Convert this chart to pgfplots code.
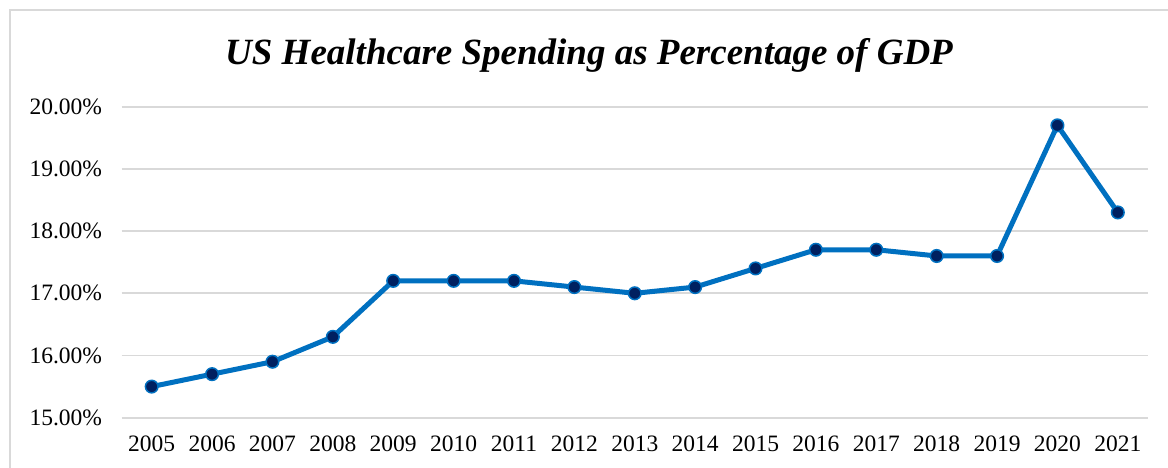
\documentclass[border=0pt]{standalone}
\usepackage{pgfplots}
\pgfplotsset{compat=1.18}
\usepackage{fontspec}
\setmainfont{Liberation Serif}
\definecolor{lineblue}{HTML}{0070C0}
\definecolor{navy}{HTML}{002060}
\definecolor{gridgray}{HTML}{D9D9D9}
\begin{document}
\begin{tikzpicture}[x=1pt,y=1pt]
\useasboundingbox (0,0) rectangle (1168,468);
\draw[gridgray, line width=1.5pt] (10,458) rectangle (1190,-20);
\node[font=\fontsize{37}{44}\selectfont\bfseries\itshape, anchor=base] at (589,403) {US Healthcare Spending as Percentage of GDP};
\begin{axis}[
  at={(121.5pt,50.3pt)}, anchor=south west,
  scale only axis, width=1026.5pt, height=311pt,
  xmin=2004.5, xmax=2021.5, ymin=15, ymax=20,
  axis line style={draw=none},
  major tick length=0pt,
  ymajorgrids, grid style={gridgray, line width=1.8pt},
  xtick=data,
  xticklabels={2005,2006,2007,2008,2009,2010,2011,2012,2013,2014,2015,2016,2017,2018,2019,2020,2021},
  ytick={15,16,17,18,19,20},
  yticklabels={15.00\%,16.00\%,17.00\%,18.00\%,19.00\%,20.00\%},
  ticklabel style={font=\fontsize{23.5}{27}\selectfont},
  yticklabel style={xshift=-16pt},
  xticklabel style={yshift=-15pt},
  clip=false,
]
\addplot[lineblue, line width=5pt, mark=*, mark size=6.3pt,
  mark options={fill=navy, draw=lineblue, line width=1.5pt}] coordinates {
(2005,15.5) (2006,15.7) (2007,15.9) (2008,16.3) (2009,17.2) (2010,17.2)
(2011,17.2) (2012,17.1) (2013,17.0) (2014,17.1) (2015,17.4) (2016,17.7)
(2017,17.7) (2018,17.6) (2019,17.6) (2020,19.7) (2021,18.3)
};
\end{axis}
\end{tikzpicture}
\end{document}
